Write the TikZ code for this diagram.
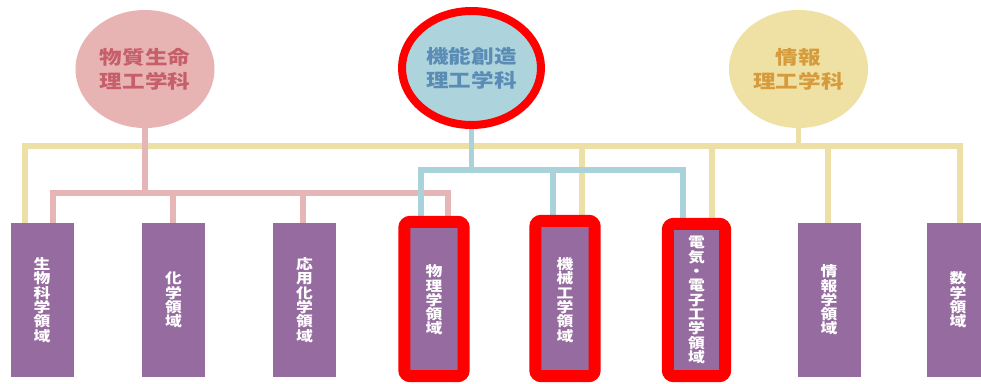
\documentclass[tikz,border=0pt]{standalone}
\usepackage{fontspec}
\newfontfamily\cjk{Noto Sans CJK JP}[FakeStretch=1.2]
\usetikzlibrary{shapes.geometric}
\definecolor{pinkfill}{HTML}{E8B3B3}
\definecolor{pinktext}{HTML}{C65F6A}
\definecolor{bluefill}{HTML}{ADD3DC}
\definecolor{bluetext}{HTML}{5A8CB6}
\definecolor{yelfill}{HTML}{EFE0A3}
\definecolor{yeltext}{HTML}{D69B3C}
\definecolor{purp}{HTML}{956BA0}
\definecolor{yline}{HTML}{ECE0A6}
\definecolor{pline}{HTML}{E6B5B5}
\definecolor{bline}{HTML}{AAD2DA}
\definecolor{hlred}{HTML}{FF0000}
\tikzset{
  dept/.style={ellipse, inner sep=0pt, align=center,
    font=\cjk\bfseries\fontsize{18.8}{24}\selectfont},
  area/.style={rectangle, fill=purp, inner sep=0pt, minimum width=63pt,
    minimum height=154pt, align=center, text=white,
    font=\cjk\bfseries\fontsize{14}{14.3}\selectfont},
  yl/.style={draw=yline, line width=5.5pt},
  pk/.style={draw=pline, line width=5.5pt},
  bl/.style={draw=bline, line width=5.5pt},
  redframe/.style={draw=hlred, line width=12pt, rounded corners=6pt},
}
\begin{document}
\begin{tikzpicture}[x=1pt,y=-1pt]
\useasboundingbox (0,0) rectangle (981,383);
\clip (0,0) rectangle (981,383);
\fill[white] (0,0) rectangle (981,383);

% departments
\node[dept, fill=pinkfill, text=pinktext, minimum width=139pt, minimum height=118pt] (e1) at (145,69) {物質生命\\理工学科};
\node[dept, fill=bluefill, text=bluetext, draw=hlred, line width=8pt, minimum width=139pt, minimum height=114pt] (e2) at (471.5,68) {機能創造\\理工学科};
\node[dept, fill=yelfill, text=yeltext, minimum width=139pt, minimum height=118pt] (e3) at (798.5,69) {情報\\理工学科};

% areas
\node[area] (b1) at (42,300) {生\\物\\科\\学\\領\\域};
\node[area] (b2) at (173.5,300) {化\\学\\領\\域};
\node[area] (b3) at (304.5,300) {応\\用\\化\\学\\領\\域};
\node[area] (b4) at (434,300) {物\\理\\学\\領\\域};
\node[area] (b5) at (565,300) {機\\械\\工\\学\\領\\域};
\node[area] (b6) at (696.5,300) {電\\気\\・\\電\\子\\工\\学\\領\\域};
\node[area] (b7) at (829,300) {情\\報\\学\\領\\域};
\node[area] (b8) at (958,300) {数\\学\\領\\域};

\coordinate (ybus) at (0,146);
\coordinate (pbus) at (0,193);
\coordinate (bbus) at (0,170);

% yellow tree
\draw[yl] (e3.south) -- (e3.south |- ybus);
\draw[yl] ([xshift=-17pt]b1.north) |- ([xshift=2pt]b8.north |- ybus) -- ([xshift=2pt]b8.north);
\draw[yl] ([xshift=17pt]b5.north) -- ([xshift=17pt]b5.north |- ybus);
\draw[yl] ([xshift=15.5pt]b6.north) -- ([xshift=15.5pt]b6.north |- ybus);
\draw[yl] ([xshift=-1pt]b7.north) -- ([xshift=-1pt]b7.north |- ybus);

% pink tree
\draw[pk] (e1.south) -- (e1.south |- pbus);
\draw[pk] ([xshift=11pt]b1.north) |- ([xshift=14pt]b4.north |- pbus) -- ([xshift=14pt]b4.north);
\draw[pk] ([xshift=-0.5pt]b2.north) -- ([xshift=-0.5pt]b2.north |- pbus);
\draw[pk] ([xshift=-1.5pt]b3.north) -- ([xshift=-1.5pt]b3.north |- pbus);

% blue tree
\draw[bl] (e2.south) -- (e2.south |- bbus);
\draw[bl] ([xshift=-13pt]b4.north) |- ([xshift=-13.5pt]b6.north |- bbus) -- ([xshift=-13.5pt]b6.north);
\draw[bl] ([xshift=-12pt]b5.north) -- ([xshift=-12pt]b5.north |- bbus);

% highlight frames
\draw[redframe] ([xshift=2pt,yshift=1pt]b4.north west) rectangle ([xshift=-2pt,yshift=1pt]b4.south east);
\draw[redframe] ([xshift=2pt,yshift=2pt]b5.north west) rectangle ([xshift=-2pt,yshift=1pt]b5.south east);
\draw[redframe] ([xshift=3pt,yshift=-1pt]b6.north west) rectangle ([xshift=-3pt,yshift=1pt]b6.south east);
\end{tikzpicture}
\end{document}
